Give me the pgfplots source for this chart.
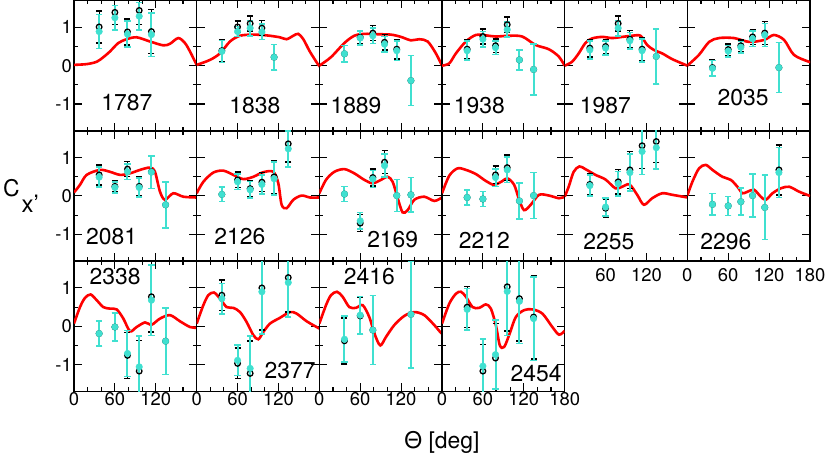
\documentclass[border=0pt]{standalone}
\usepackage{fontspec}
\setmainfont{TeX Gyre Heros}
\usepackage{pgfplots}
\pgfplotsset{compat=1.18}
\definecolor{cy}{RGB}{64,224,208}
\pgfplotsset{
  panel/.style={scale only axis, width=122.67bp, height=130.3bp, anchor=south west,
    xmin=0,xmax=180,ymin=-1.7,ymax=1.7,
    xtick={0,60,120,180}, ytick={-1,0,1}, minor x tick num=2, minor y tick num=1,
    tick align=inside, tick pos=both, xticklabels={}, yticklabels={},
    axis line style={line width=1.4bp},
    major tick length=8bp, minor tick length=4bp,
    every tick/.append style={line width=1.1bp, black},
    every minor tick/.append style={line width=1.1bp, black},
    tick label style={font=\fontsize{18.5}{20}\selectfont},
    /pgf/number format/assume math mode=true,
    xticklabel style={inner sep=1bp},
    yticklabel style={inner sep=2bp},
  },
  ylab/.style={yticklabels={-1,0,1}},
  curve/.style={red, line width=2.6bp, smooth, no markers},
  blk/.style={black, only marks, mark=o, mark size=2.8bp, mark options={line width=1.3bp},
    error bars/.cd, y dir=both, y explicit, error bar style={line width=0.8bp, black},
    error mark options={rotate=90, mark size=3bp, line width=1.4bp, black}},
  cyn/.style={cy, only marks, mark=*, mark size=3.3bp, mark options={draw=cy, fill=cy},
    error bars/.cd, y dir=both, y explicit, error bar style={line width=2bp, cy},
    error mark options={rotate=90, mark size=3.2bp, line width=1.6bp, cy}},
}
\newcommand\W[3]{\node[font=\fontsize{23}{24}\selectfont] at (axis cs:#1,#2) {#3};}
\begin{document}
\begin{tikzpicture}
\useasboundingbox (0,0) rectangle (830bp,456bp);
% ---------------- Row 1
\begin{axis}[panel, ylab, at={(74bp,325.2bp)}]
\addplot[curve] coordinates {(0,0.02)(18.6,0.04)(33.2,0.10)(43,0.22)(52.8,0.37)(65,0.59)(77.3,0.69)(91.9,0.74)(111.5,0.63)(131,0.53)(140.8,0.57)(153,0.72)(162.8,0.59)(170.2,0.37)(180,0.02)};
\addplot[blk] table[row sep=\\, y error index=2] {36.9 1.01 0.42\\ 60 1.39 0.32\\ 78.5 0.88 0.34\\ 95.7 1.44 0.36\\ 113.6 0.89 0.57\\};
\addplot[cyn] table[row sep=\\, y error index=2] {36.9 0.89 0.44\\ 60 1.25 0.32\\ 78.5 0.82 0.34\\ 95.7 1.29 0.36\\ 113.6 0.81 0.57\\};
\W{77.7}{-0.95}{1787}
\end{axis}
\begin{axis}[panel, at={(196.67bp,325.2bp)}]
\addplot[curve] coordinates {(0,0.02)(19.6,0.15)(34.2,0.32)(48.9,0.63)(63.6,0.78)(83,0.81)(102.7,0.79)(122,0.74)(132,0.69)(141.8,0.78)(149,0.83)(156.5,0.69)(166,0.37)(178.5,0.02)(180,0)};
\addplot[blk] table[row sep=\\, y error index=2] {36.9 0.39 0.29\\ 60 1.01 0.15\\ 78.5 1.10 0.2\\ 95.7 0.98 0.2\\ 113.6 0.22 0.33\\};
\addplot[cyn] table[row sep=\\, y error index=2] {36.9 0.37 0.29\\ 60 0.89 0.13\\ 78.5 0.98 0.2\\ 95.7 0.88 0.2\\ 113.6 0.22 0.33\\};
\W{85.5}{-1.03}{1838}
\end{axis}
\begin{axis}[panel, at={(319.33bp,325.2bp)}]
\addplot[curve] coordinates {(0,0.0)(17,0.22)(36.7,0.59)(51.3,0.78)(66,0.83)(85.6,0.82)(105,0.81)(119.8,0.75)(134.5,0.66)(146.7,0.69)(159,0.63)(171,0.32)(180,0.0)};
\addplot[blk] table[row sep=\\, y error index=2] {36.9 0.31 0.22\\ 60 0.74 0.18\\ 78.5 0.85 0.2\\ 95.7 0.61 0.2\\ 113.6 0.43 0.26\\ 134.4 -0.39 0.65\\};
\addplot[cyn] table[row sep=\\, y error index=2] {36.9 0.31 0.22\\ 60 0.72 0.18\\ 78.5 0.78 0.2\\ 95.7 0.56 0.2\\ 113.6 0.39 0.26\\ 134.4 -0.39 0.65\\};
\W{53.8}{-1.03}{1889}
\end{axis}
\begin{axis}[panel, at={(442bp,325.2bp)}]
\addplot[curve] coordinates {(0,0)(10.7,0.06)(20.4,0.32)(35,0.63)(49.6,0.8)(64.2,0.79)(78.8,0.76)(98.3,0.78)(117.7,0.76)(137.2,0.54)(156.6,0.43)(171.2,0.24)(180,0.0)};
\addplot[blk] table[row sep=\\, y error index=2] {36.9 0.43 0.25\\ 60 0.76 0.2\\ 78.5 0.52 0.18\\ 95.7 1.07 0.2\\ 113.6 0.15 0.26\\ 134.4 -0.10 0.67\\};
\addplot[cyn] table[row sep=\\, y error index=2] {36.9 0.39 0.25\\ 60 0.69 0.2\\ 78.5 0.47 0.18\\ 95.7 0.94 0.2\\ 113.6 0.15 0.26\\ 134.4 -0.10 0.67\\};
\W{54.8}{-1.05}{1938}
\end{axis}
\begin{axis}[panel, at={(564.67bp,325.2bp)}]
\addplot[curve] coordinates {(0,0)(10.8,0.1)(20.6,0.32)(30.4,0.59)(40.2,0.71)(54.9,0.75)(69.6,0.72)(84.3,0.75)(99,0.78)(111.3,0.78)(121,0.54)(130.9,0.41)(143.1,0.32)(157.8,0.17)(180,0)};
\addplot[blk] table[row sep=\\, y error index=2] {36.9 0.46 0.23\\ 60 0.50 0.18\\ 78.5 1.10 0.2\\ 95.7 0.69 0.22\\ 113.6 0.43 0.3\\ 134.4 0.24 0.72\\};
\addplot[cyn] table[row sep=\\, y error index=2] {36.9 0.41 0.23\\ 60 0.46 0.18\\ 78.5 0.98 0.2\\ 95.7 0.65 0.22\\ 113.6 0.39 0.3\\ 134.4 0.24 0.72\\};
\W{59.8}{-1.05}{1987}
\end{axis}
\begin{axis}[panel, at={(687.33bp,325.2bp)}]
\addplot[curve] coordinates {(0,0)(17,0.28)(32,0.62)(46.5,0.72)(68.5,0.72)(90.5,0.62)(112.5,0.67)(127,0.8)(142,0.67)(156.5,0.28)(178.5,0.1)(180,0.1)};
\addplot[blk] table[row sep=\\, y error index=2] {36.9 -0.05 0.2\\ 60 0.42 0.15\\ 78.5 0.52 0.15\\ 95.7 0.75 0.2\\ 113.6 0.85 0.3\\ 134.4 -0.05 0.65\\};
\addplot[cyn] table[row sep=\\, y error index=2] {36.9 -0.07 0.2\\ 60 0.38 0.15\\ 78.5 0.48 0.15\\ 95.7 0.70 0.2\\ 113.6 0.80 0.3\\ 134.4 -0.05 0.65\\};
\W{81.9}{-0.82}{2035}
\end{axis}
% ---------------- Row 2
\begin{axis}[panel, ylab, at={(74bp,194.9bp)}]
\addplot[curve] coordinates {(0,0.09)(8.8,0.29)(18.6,0.55)(38.1,0.68)(52.8,0.63)(67.5,0.55)(82.2,0.59)(96.8,0.68)(111.5,0.74)(118.8,0.63)(126.2,0.11)(133.5,-0.1)(145.7,0.07)(160.4,-0.02)(180,-0.04)};
\addplot[blk] table[row sep=\\, y error index=2] {36.9 0.55 0.26\\ 60 0.25 0.15\\ 78.5 0.70 0.2\\ 95.7 0.25 0.25\\ 113.6 0.63 0.43\\ 134.4 -0.23 0.6\\};
\addplot[cyn] table[row sep=\\, y error index=2] {36.9 0.49 0.26\\ 60 0.22 0.15\\ 78.5 0.63 0.2\\ 95.7 0.22 0.25\\ 113.6 0.62 0.43\\ 134.4 -0.23 0.6\\};
\W{55.3}{-1.06}{2081}
\end{axis}
\begin{axis}[panel, at={(196.67bp,194.9bp)}]
\addplot[curve] coordinates {(0,0.07)(9.8,0.37)(24.4,0.61)(39.1,0.66)(53.8,0.55)(68.5,0.44)(83.1,0.5)(97.8,0.62)(112.5,0.63)(119.8,0.33)(124.7,-0.23)(132,-0.32)(141.8,-0.1)(154,0.01)(166.3,-0.04)(180,-0.04)};
\addplot[blk] table[row sep=\\, y error index=2] {36.9 0.04 0.19\\ 60 0.42 0.2\\ 78.5 0.19 0.22\\ 95.7 0.36 0.25\\ 113.6 0.50 0.43\\ 134.4 1.36 0.47\\};
\addplot[cyn] table[row sep=\\, y error index=2] {36.9 0.04 0.19\\ 60 0.37 0.2\\ 78.5 0.16 0.22\\ 95.7 0.30 0.25\\ 113.6 0.45 0.43\\ 134.4 1.23 0.47\\};
\W{63.5}{-1.06}{2126}
\end{axis}
\begin{axis}[panel, at={(319.33bp,194.9bp)}]
\addplot[curve] coordinates {(0,0.07)(9.8,0.42)(22,0.63)(36.7,0.7)(51.3,0.59)(66,0.42)(78.2,0.33)(90.5,0.42)(100.2,0.5)(107.6,0.37)(115,-0.06)(122.2,-0.43)(129.6,-0.37)(139.4,-0.1)(154,-0.02)(168.7,-0.13)(180,-0.04)};
\addplot[blk] table[row sep=\\, y error index=2] {36.9 0.05 0.2\\ 60 -0.71 0.22\\ 78.5 0.48 0.22\\ 95.7 0.88 0.3\\ 113.6 0.01 0.42\\ 134.4 0.03 0.45\\};
\addplot[cyn] table[row sep=\\, y error index=2] {36.9 0.05 0.2\\ 60 -0.65 0.22\\ 78.5 0.44 0.22\\ 95.7 0.79 0.3\\ 113.6 0.01 0.42\\ 134.4 0.03 0.45\\};
\W{107.7}{-1.15}{2169}
\end{axis}
\begin{axis}[panel, at={(442bp,194.9bp)}]
\addplot[curve] coordinates {(0,0.07)(10.7,0.53)(22.9,0.72)(35.1,0.68)(49.8,0.57)(64.4,0.39)(76.6,0.29)(88.8,0.39)(96.1,0.46)(105.9,0.29)(113.2,-0.1)(120.5,-0.37)(130.2,-0.23)(142.4,0.03)(157,0.01)(171.7,-0.06)(180,-0.02)};
\addplot[blk] table[row sep=\\, y error index=2] {36.9 -0.04 0.2\\ 60 -0.08 0.2\\ 78.5 0.55 0.23\\ 95.7 0.74 0.33\\ 113.6 -0.13 0.47\\ 134.4 0.01 0.6\\};
\addplot[cyn] table[row sep=\\, y error index=2] {36.9 -0.04 0.2\\ 60 -0.08 0.2\\ 78.5 0.48 0.23\\ 95.7 0.68 0.33\\ 113.6 -0.13 0.47\\ 134.4 0.01 0.6\\};
\W{62.2}{-1.15}{2212}
\end{axis}
\begin{axis}[panel, at={(564.67bp,194.9bp)}, xticklabels={,60,120,}, xticklabel style={yshift=-6bp}]
\addplot[curve] coordinates {(0,-0.02)(5.9,0.24)(13.2,0.63)(21.6,0.77)(30.4,0.7)(45.1,0.55)(59.8,0.43)(74.5,0.2)(84.3,0.24)(95.1,0.3)(106.4,0.03)(116.2,-0.23)(128.4,-0.06)(143.1,0.07)(157.8,0.03)(180,-0.04)};
\addplot[blk] table[row sep=\\, y error index=2] {36.9 0.30 0.27\\ 60 -0.32 0.23\\ 78.5 0.37 0.32\\ 95.7 0.68 0.48\\ 113.6 1.31 0.6\\ 134.4 1.42 0.55\\};
\addplot[cyn] table[row sep=\\, y error index=2] {36.9 0.27 0.27\\ 60 -0.29 0.23\\ 78.5 0.32 0.32\\ 95.7 0.61 0.48\\ 113.6 1.16 0.6\\ 134.4 1.26 0.55\\};
\W{64.7}{-1.19}{2255}
\end{axis}
\begin{axis}[panel, at={(687.33bp,194.9bp)}, xticklabels={0,60,120,180}, xticklabel style={yshift=-6bp}]
\addplot[curve] coordinates {(0,0.01)(7.4,0.37)(17.2,0.72)(27,0.81)(36.8,0.68)(51.5,0.5)(63.7,0.42)(73.5,0.24)(80.9,0.07)(88.2,0.11)(98,0.16)(107.8,-0.02)(115.2,-0.1)(125,0.07)(137.3,0.2)(149.5,0.24)(164.2,0.11)(180,0)};
\addplot[blk] table[row sep=\\, y error index=2] {36.9 -0.22 0.28\\ 60 -0.26 0.25\\ 78.5 -0.15 0.35\\ 95.7 0.01 0.56\\ 113.6 -0.30 0.84\\ 134.4 0.68 0.65\\};
\addplot[cyn] table[row sep=\\, y error index=2] {36.9 -0.22 0.28\\ 60 -0.26 0.25\\ 78.5 -0.15 0.35\\ 95.7 0.01 0.56\\ 113.6 -0.30 0.84\\ 134.4 0.61 0.65\\};
\W{56.4}{-1.19}{2296}
\end{axis}
% ---------------- Row 3
\begin{axis}[panel, ylab, at={(74bp,64.6bp)}, xticklabels={0,60,120,}]
\addplot[curve] coordinates {(0,0.07)(8.8,0.5)(16.1,0.74)(24.4,0.83)(33.3,0.68)(43,0.5)(52.8,0.46)(62.6,0.44)(72.4,0.2)(82.2,-0.13)(91.9,-0.02)(104.2,0.1)(113.9,0.04)(126.2,0.2)(140.8,0.29)(155.5,0.13)(170.2,-0.02)(180,-0.04)};
\addplot[blk] table[row sep=\\, y error index=2] {36.9 -0.19 0.33\\ 60 -0.02 0.37\\ 78.5 -0.76 0.6\\ 95.7 -1.17 0.8\\ 113.6 0.77 0.92\\ 134.4 -0.39 0.87\\};
\addplot[cyn] table[row sep=\\, y error index=2] {36.9 -0.19 0.33\\ 60 -0.02 0.37\\ 78.5 -0.71 0.6\\ 95.7 -1.06 0.8\\ 113.6 0.68 0.92\\ 134.4 -0.39 0.87\\};
\W{60.3}{1.29}{2338}
\end{axis}
\begin{axis}[panel, at={(196.67bp,64.6bp)}, xticklabels={0,60,120,}]
\addplot[curve] coordinates {(0,0.07)(9.8,0.55)(17.1,0.81)(25.4,0.88)(34.2,0.72)(44,0.5)(53.8,0.48)(63.6,0.37)(73.3,0.11)(83.1,-0.23)(90.5,-0.34)(97.8,-0.15)(107.6,0.07)(122.2,0.22)(136.9,0.37)(146.7,0.33)(161.4,0.13)(180,-0.06)};
\addplot[blk] table[row sep=\\, y error index=2] {36.9 0.81 0.4\\ 60 -0.97 0.4\\ 78.5 -1.23 0.85\\ 95.7 1.0 1.1\\ 134.4 1.27 0.9\\};
\addplot[cyn] table[row sep=\\, y error index=2] {36.9 0.72 0.4\\ 60 -0.89 0.4\\ 78.5 -1.10 0.85\\ 95.7 0.9 1.1\\ 134.4 1.14 0.9\\};
\W{137}{-1.15}{2377}
\end{axis}
\begin{axis}[panel, at={(319.33bp,64.6bp)}, xticklabels={0,60,120,}]
\addplot[curve] coordinates {(0,0.07)(9.8,0.55)(17.1,0.81)(25.9,0.9)(34.2,0.77)(44,0.5)(53.8,0.48)(63.6,0.55)(73.3,0.24)(81.7,-0.23)(89.5,-0.5)(97.8,-0.28)(110,0.03)(124.7,0.27)(139.4,0.37)(154,0.29)(168.7,0.03)(178.5,-0.17)(180,-0.12)};
\addplot[blk] table[row sep=\\, y error index=2] {36.9 -0.38 0.6\\ 60 0.27 0.49\\ 78.5 -0.10 0.9\\ 134.4 0.31 1.4\\};
\addplot[cyn] table[row sep=\\, y error index=2] {36.9 -0.34 0.6\\ 60 0.29 0.49\\ 78.5 -0.10 0.9\\ 134.4 0.31 1.4\\};
\W{73.5}{1.29}{2416}
\end{axis}
\begin{axis}[panel, at={(442bp,64.6bp)}, xticklabels={0,60,120,180}]
\addplot[curve] coordinates {(0,0.07)(10.7,0.59)(20.5,0.85)(27.8,0.9)(35.1,0.77)(44.9,0.5)(54.6,0.48)(64.4,0.57)(71.7,0.46)(79,0.03)(84.9,-0.5)(91.2,-0.54)(98.5,-0.23)(108.3,0.24)(120.5,0.42)(132.7,0.44)(147.3,0.33)(161.9,-0.02)(171.7,-0.22)(180,-0.12)};
\addplot[blk] table[row sep=\\, y error index=2] {36.9 0.50 0.54\\ 60 -1.17 0.7\\ 78.5 -0.83 0.9\\ 95.7 1.03 1.15\\ 113.6 0.72 1.1\\ 134.4 0.24 1.09\\};
\addplot[cyn] table[row sep=\\, y error index=2] {36.9 0.44 0.54\\ 60 -1.04 0.7\\ 78.5 -0.74 0.9\\ 95.7 0.91 1.15\\ 113.6 0.65 1.1\\ 134.4 0.20 1.09\\};
\W{138}{-1.23}{2454}
\end{axis}
% ---------------- axis titles
\node[anchor=base west, inner sep=0, font=\fontsize{23}{24}\selectfont] at (3bp,259.3bp) {C};
\node[anchor=base west, inner sep=0, font=\fontsize{24}{24}\selectfont] at (21.5bp,243bp) {x'};
\node[anchor=base, inner sep=0, font=\fontsize{23}{24}\selectfont] at (442bp,7.7bp) {Θ [deg]};
\end{tikzpicture}
\end{document}
